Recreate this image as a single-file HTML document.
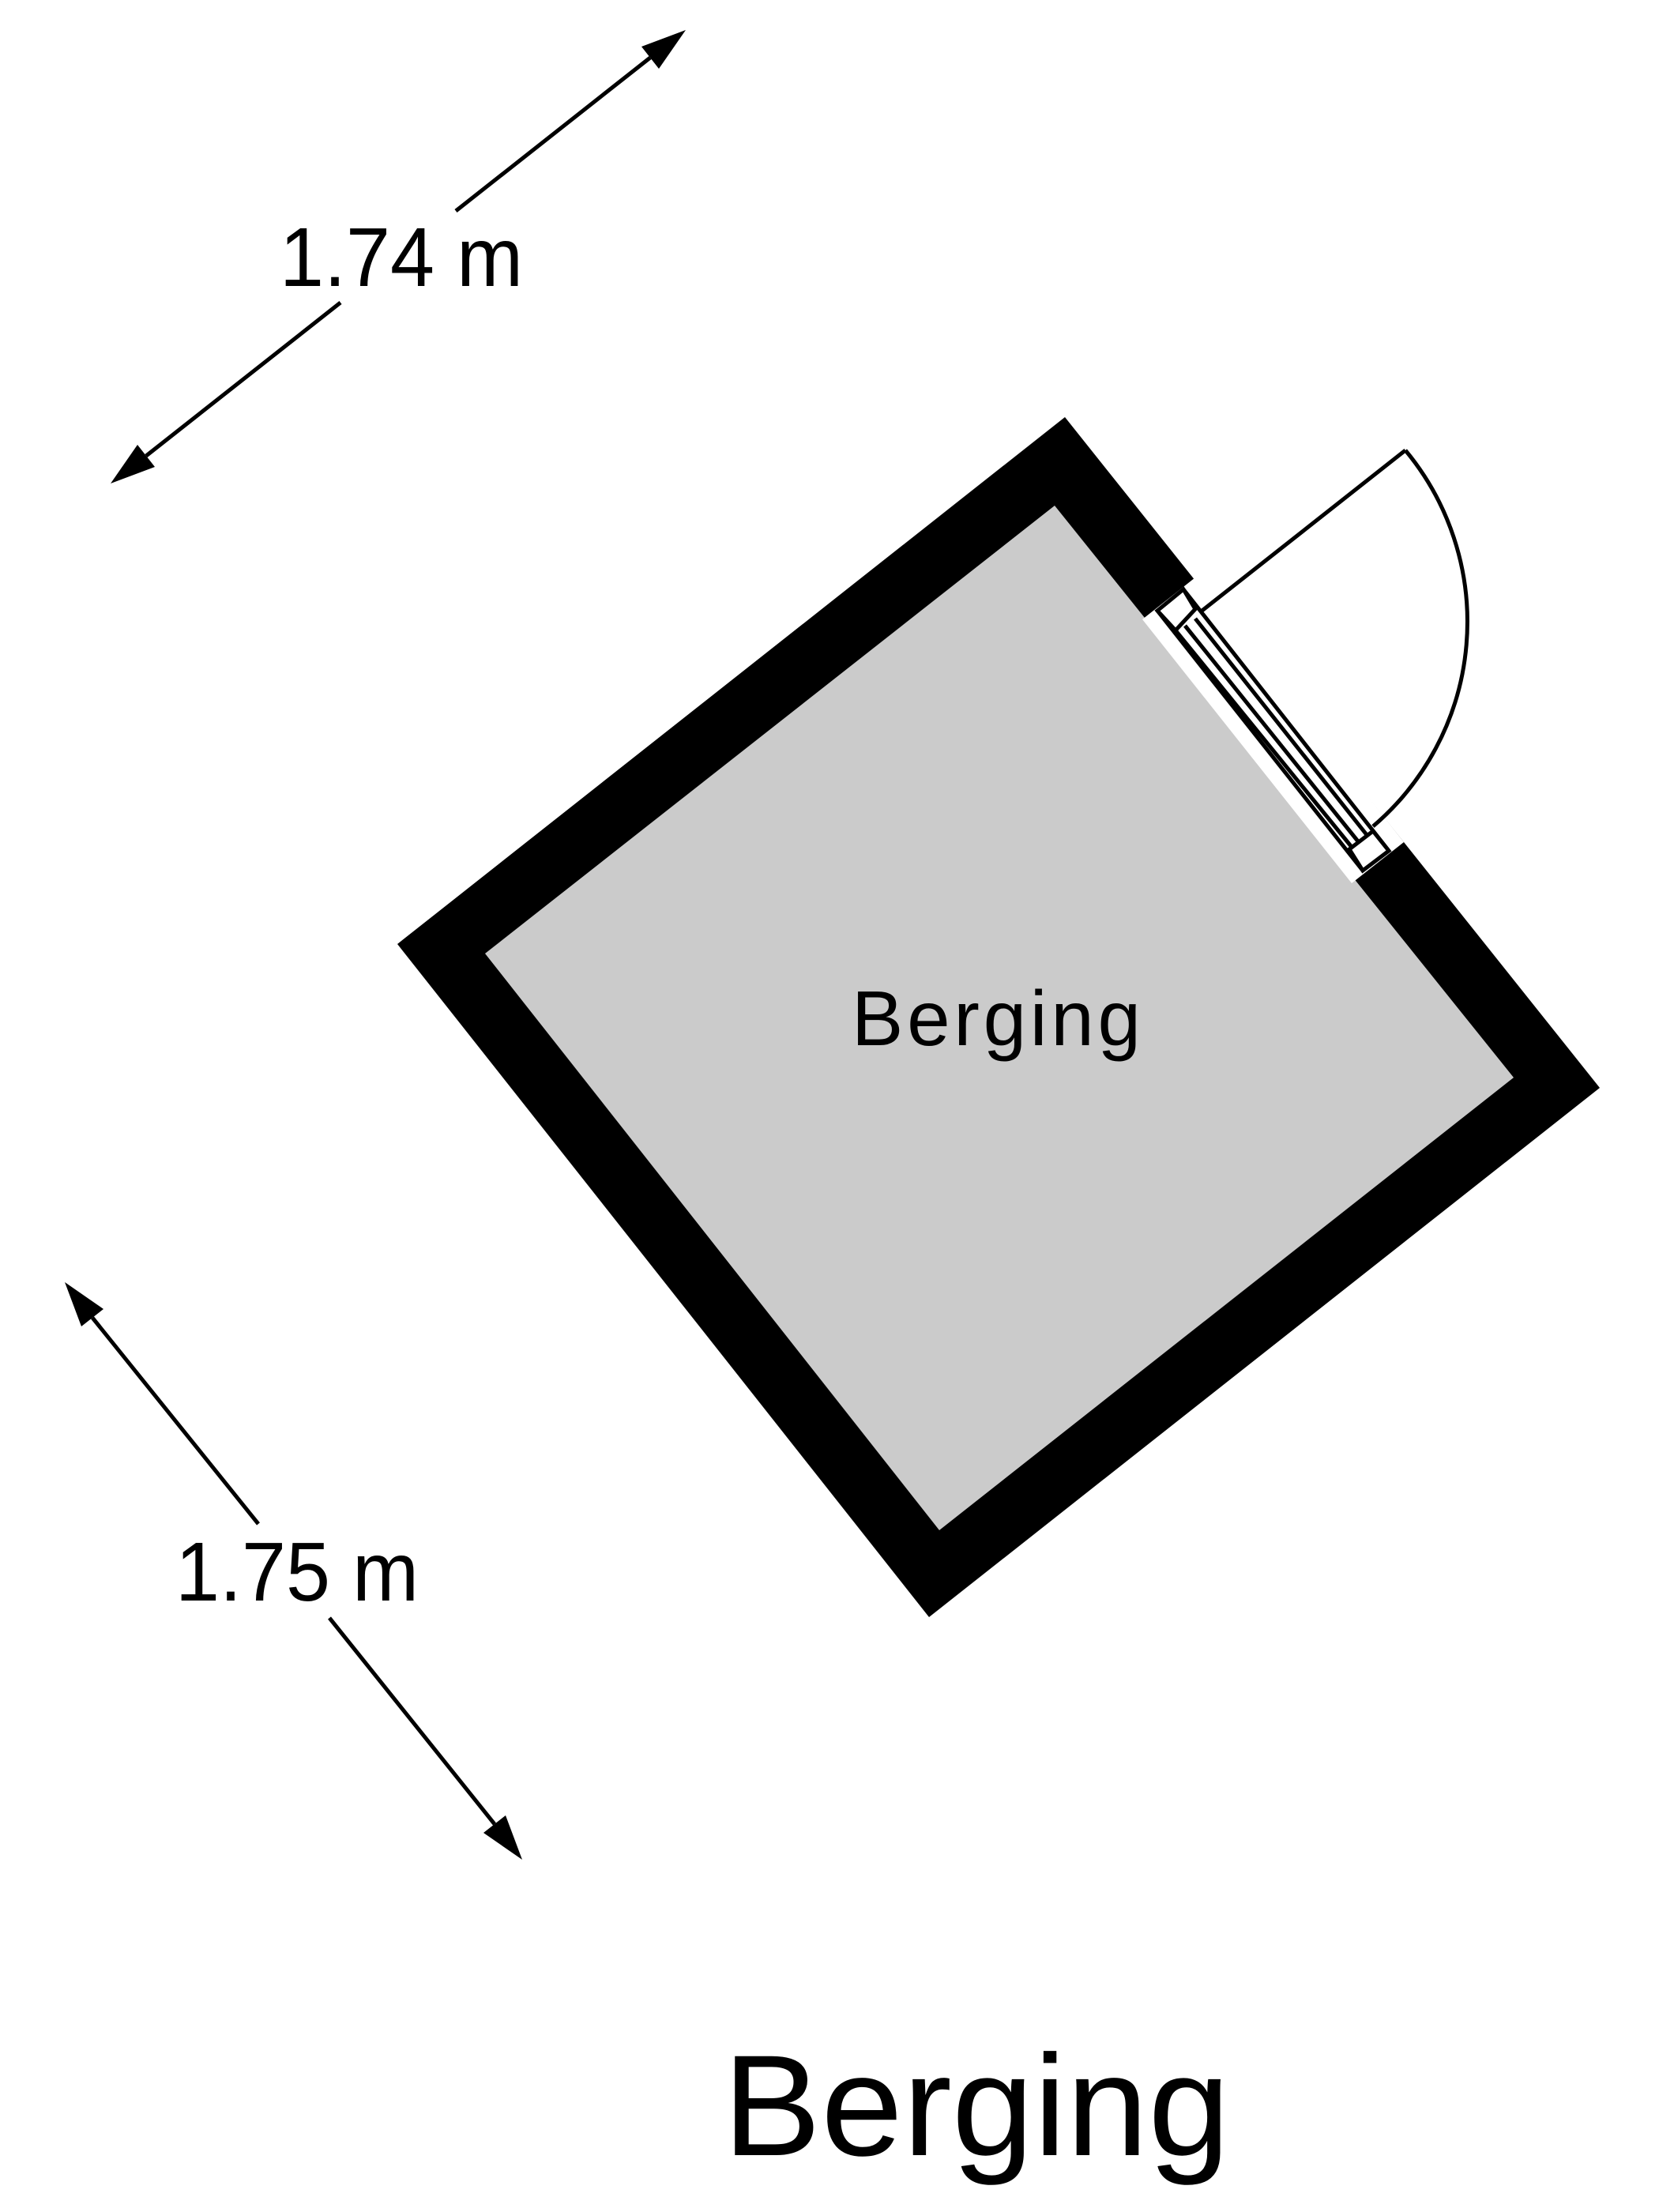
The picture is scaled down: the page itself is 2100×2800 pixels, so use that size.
<!DOCTYPE html>
<html><head><meta charset="utf-8"><style>
html,body{margin:0;padding:0;background:#fff;}
svg{display:block;}
text{font-family:"Liberation Sans",Arial,sans-serif;fill:#000;}
</style></head><body>
<svg width="2100" height="2800" viewBox="0 0 2100 2800" xmlns="http://www.w3.org/2000/svg">
<rect width="2100" height="2800" fill="#fff"/>
<polygon points="1348,528 2025,1377 1176,2047 503,1195" fill="#000"/>
<polygon points="1335,640 1916,1364 1189,1937 614,1207" fill="#cbcbcb"/>
<polygon points="1446,784 1513,731 1777,1066 1711,1118" fill="#fff"/>
<g stroke="#000" stroke-width="5" fill="none">
<line x1="1498" y1="746" x2="1758" y2="1077"/>
<line x1="1465" y1="773" x2="1725" y2="1102"/>
<line x1="1488" y1="798" x2="1710" y2="1071"/>
<line x1="1500" y1="792" x2="1719" y2="1065"/>
<line x1="1513" y1="783" x2="1731" y2="1058"/>
<polygon points="1465,773 1498,746 1513,771 1488,798" fill="#fff"/>
<polygon points="1708,1075 1738,1052 1758,1077 1725,1102" fill="#fff"/>
<line x1="1519" y1="775" x2="1779" y2="570"/>
<path d="M1779,570 A340,340 0 0 1 1738,1046"/>
</g>
<g stroke="#000" stroke-width="5">
<line x1="823" y1="73" x2="577" y2="267"/>
<line x1="431" y1="383" x2="185" y2="577"/>
<line x1="117" y1="1668" x2="327" y2="1929"/>
<line x1="417" y1="2048" x2="626" y2="2309"/>
</g>
<polygon points="868,38 834,87 812,59" fill="#000"/>
<polygon points="140,612 196,591 174,563" fill="#000"/>
<polygon points="82,1623 131,1657 103,1679" fill="#000"/>
<polygon points="661,2354 640,2298 612,2320" fill="#000"/>
<text x="354" y="362" font-size="106" textLength="308" lengthAdjust="spacingAndGlyphs">1.74 m</text>
<text x="222" y="2026" font-size="106" textLength="308" lengthAdjust="spacingAndGlyphs">1.75 m</text>
<text x="1078" y="1323" font-size="98" textLength="366" lengthAdjust="spacing">Berging</text>
<text x="915" y="2728" font-size="182" textLength="642" lengthAdjust="spacingAndGlyphs">Berging</text>
</svg>
</body></html>
